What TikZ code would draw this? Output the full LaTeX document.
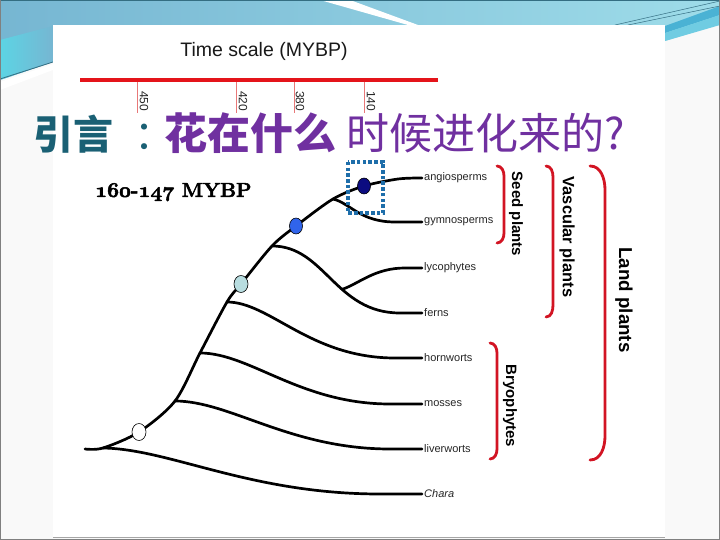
\documentclass[tikz,border=0pt]{standalone}
\usepackage{fontspec}
\newfontfamily\arial{Liberation Sans}
\newfontfamily\cjk{Noto Sans CJK SC}
\usetikzlibrary{shapes.geometric}
\newcommand\osnum[1]{{\usefont{OML}{cmm}{b}{it}#1}}
\newcommand\heavytext[1]{\special{pdf:literal direct 2 Tr 0.5 w}#1\special{pdf:literal direct 0 Tr}}
\definecolor{titleteal}{RGB}{26,96,116}
\definecolor{titlepurple}{RGB}{112,48,160}
\definecolor{bracketred}{RGB}{210,20,35}
\definecolor{scalered}{RGB}{228,20,26}
\definecolor{tickred}{RGB}{232,120,120}
\definecolor{boxblue}{RGB}{30,110,170}
\definecolor{bandL}{RGB}{118,182,210}
\definecolor{bandR}{RGB}{158,220,233}
\definecolor{cyanL}{RGB}{92,212,228}
\definecolor{stripeA}{RGB}{74,178,212}
\definecolor{stripeB}{RGB}{112,204,226}
\definecolor{topline}{RGB}{52,110,130}
\definecolor{slidebg}{RGB}{249,249,249}
\definecolor{dotlight}{RGB}{184,221,224}
\definecolor{dotblue}{RGB}{48,100,235}
\definecolor{dotnavy}{RGB}{12,12,128}
\begin{document}
\begin{tikzpicture}[x=1pt,y=-1pt,
  br/.style={line width=2.7pt, line cap=round, line join=round},
  bracket/.style={draw=bracketred, line width=2.8pt, line cap=round},
  leaf/.style={anchor=west, inner sep=2pt, text=black!85, font=\arial\fontsize{11}{13}\selectfont},
  grp/.style={rotate=-90, inner sep=0pt, text=black, font=\arial\bfseries\fontsize{15}{17}\selectfont},
  ticklbl/.style={rotate=-90, anchor=west, inner sep=0pt, text=black!85, font=\arial\fontsize{12}{14}\selectfont},
  tickline/.style={draw=tickred, line width=0.9pt},
  dot/.style={ellipse, draw=black, line width=0.6pt, minimum width=14pt, minimum height=17pt, inner sep=0pt}]
\useasboundingbox (0,0) rectangle (720,540);
% ---- slide background ----
\fill[slidebg] (0,0) rectangle (720,540);
\shade[left color=bandL, right color=bandR] (0,0) -- (720,0) -- (720,24) -- (665,41) -- (53,62) -- (0,80) -- cycle;
\shade[left color=cyanL, right color=bandL] (0,40) -- (53,26) -- (53,62) -- (0,80) -- cycle;
\fill[white] (0,82) -- (53,64) -- (53,70) -- (0,90) -- cycle;
\draw[topline, line width=0.8pt] (0,79) -- (53,62);
\fill[white] (320,0) -- (350,0) -- (418,25) -- (408,25) -- cycle;
\fill[stripeA] (665,26) -- (720,6) -- (720,15) -- (665,33) -- cycle;
\fill[stripeB] (665,33) -- (720,15) -- (720,25) -- (665,41) -- cycle;
\draw[topline, line width=0.5pt] (615,25) -- (720,1);
\draw[topline, line width=0.5pt] (628,25) -- (720,6);
\draw[topline, line width=1.2pt] (0,0.6) -- (720,0.6);
\draw[gray, line width=1pt] (0.5,0) -- (0.5,539.5) -- (719.5,539.5) -- (719.5,0);
% ---- image area ----
\fill[white] (53,25) rectangle (665,537);
\draw[gray!70, line width=1.2pt] (53,537.5) -- (665,537.5);
% ---- time scale ----
\node[text=black!90, font=\arial\fontsize{19.5}{22}\selectfont] (ts) at (264,51) {Time scale (MYBP)};
\coordinate (barL) at (80,80);
\coordinate (barR) at (438,80);
\draw[scalered, line width=4.5pt] (barL) -- (barR);
\coordinate (t450) at (137,82);
\coordinate (t420) at (236,82);
\coordinate (t380) at (294,82);
\coordinate (t140) at (364,82);
\draw[tickline] (t450) -- ++(0,31);
\draw[tickline] (t420) -- ++(0,31);
\draw[tickline] (t380) -- ++(0,31);
\draw[tickline] (t140) -- ++(0,31);
\node[ticklbl] (l450) at (144,91) {450};
\node[ticklbl] (l420) at (243,91) {420};
\node[ticklbl] (l380) at (300,91) {380};
\node[ticklbl] (l140) at (371,91) {140};
% ---- title ----
\node[anchor=base west, inner sep=0pt, text=titleteal, font=\cjk\bfseries\fontsize{40}{44}\selectfont] (yin) at (33,150) {引言};
\node[anchor=base west, inner sep=0pt, text=titleteal, font=\cjk\fontsize{40}{44}\selectfont] (colon) at (134,150) {：};
\node[anchor=base west, inner sep=0pt, text=titlepurple, font=\cjk\bfseries\fontsize{43}{46}\selectfont] (hua) at (164,150) {花在什么};
\node[anchor=base west, inner sep=0pt, text=titlepurple, font=\cjk\fontsize{43}{46}\selectfont] (shi) at (346,150) {时候进化来的?};
% ---- date ----
\node[anchor=west, inner sep=0pt, text=black, font=\bfseries\fontsize{20}{23}\selectfont] (date) at (95,192) {\heavytext{\osnum{160}-\osnum{147} MYBP}};
% ---- leaves ----
\node[leaf] (angio) at (422,178) {angiosperms};
\node[leaf] (gymno) at (422,222) {gymnosperms};
\node[leaf] (lyco) at (422,268) {lycophytes};
\node[leaf] (ferns) at (422,313) {ferns};
\node[leaf] (horn) at (422,358) {hornworts};
\node[leaf] (mosses) at (422,404) {mosses};
\node[leaf] (liver) at (422,449) {liverworts};
\node[leaf, font=\arial\itshape\fontsize{11}{13}\selectfont] (chara) at (422,494) {Chara};
% ---- branch points ----
\coordinate (root) at (85,449);
\coordinate (b0) at (103,448);
\coordinate (w1) at (139,432);
\coordinate (b1) at (175,401);
\coordinate (b2) at (200,353);
\coordinate (b3) at (227,302);
\coordinate (w2) at (241,284);
\coordinate (b4) at (272,246);
\coordinate (w3) at (296,226);
\coordinate (b5) at (333,199);
\coordinate (w4) at (364,186);
% backbone
\draw[br] plot[smooth, tension=0.5] coordinates {(root) (b0) (w1) (b1) (b2) (b3) (w2) (b4) (w3) (b5) (w4) (398,179) (angio.west)};
% branches
\draw[br] (b0) .. controls (170,449) and (250,494) .. (380,494) -- (chara.west);
\draw[br] (b1) .. controls (230,401) and (290,449) .. (390,449) -- (liver.west);
\draw[br] (b2) .. controls (250,353) and (300,404) .. (390,404) -- (mosses.west);
\draw[br] (b3) .. controls (270,302) and (310,358) .. (395,358) -- (horn.west);
\draw[br] (b4) .. controls (325,246) and (335,313) .. coordinate[pos=0.6] (b6) (400,313) -- (ferns.west);
\draw[br] (b6) .. controls (360,283) and (375,268) .. (405,268) -- (lyco.west);
\draw[br] (b5) .. controls (350,203) and (360,222) .. (395,222) -- (gymno.west);
% ---- ancestral dots ----
\node[dot, fill=white] (d1) at (w1) {};
\node[dot, fill=dotlight] (d2) at (w2) {};
\node[dot, fill=dotblue, minimum width=13pt, minimum height=16pt] (d3) at (w3) {};
\node[dot, fill=dotnavy, minimum width=13pt, minimum height=16pt] (d4) at (w4) {};
% ---- dotted highlight box ----
\draw[boxblue, line width=3.5pt, dash pattern=on 3.5pt off 2.2pt] (348,162) rectangle (383,213);
% ---- brackets ----
\draw[bracket] (497,166) to[out=0,in=90] (504,176) -- (504,233) to[out=-90,in=0] (497,243);
\draw[bracket] (546,166) to[out=0,in=90] (553,177) -- (553,305) to[out=-90,in=0] (546,317);
\draw[bracket] (590,166) to[out=0,in=90] (605,190) -- (605,436) to[out=-90,in=0] (590,460);
\draw[bracket] (490,343) to[out=0,in=90] (497,353) -- (497,449) to[out=-90,in=0] (490,459);
\node[grp] (seed) at (516,214) {Seed plants};
\node[grp, font=\arial\bfseries\fontsize{16.4}{18}\selectfont] (vasc) at (567,237) {Vascular plants};
\node[grp, font=\arial\bfseries\fontsize{18.7}{21}\selectfont] (land) at (624,300) {Land plants};
\node[grp] (bryo) at (510,406) {Bryophytes};
\end{tikzpicture}
\end{document}
